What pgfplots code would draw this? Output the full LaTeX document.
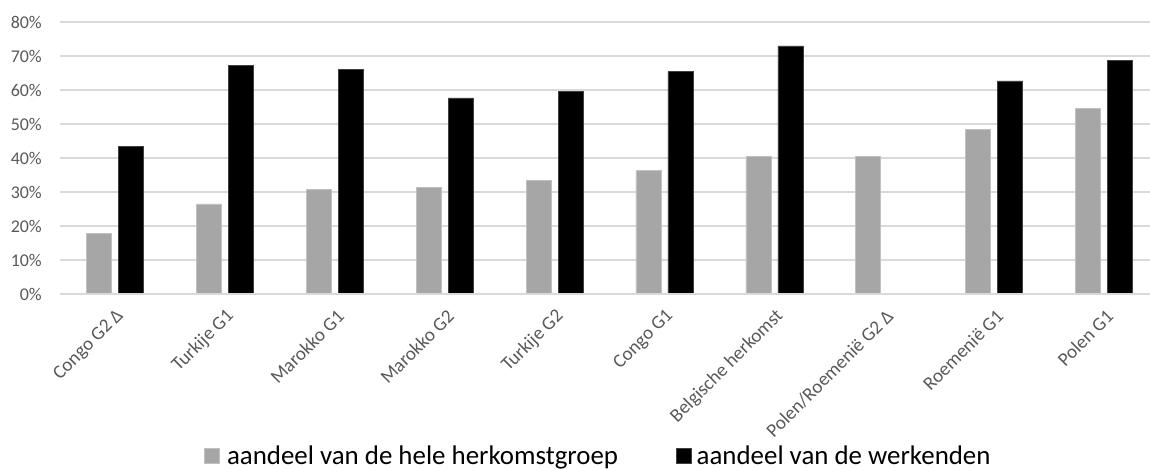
\documentclass[border=0pt]{standalone}
\usepackage{pgfplots}
\pgfplotsset{compat=1.18}
\usepackage{fontspec}
\setmainfont{Carlito}
\definecolor{gridc}{HTML}{D9D9D9}
\definecolor{barg}{HTML}{A6A6A6}
\definecolor{labc}{HTML}{595959}
\pgfplotsset{sqlegend/.style={legend image code/.code={\fill[##1] (0bp,-7.5bp) rectangle (15bp,7.5bp);}}}
\begin{document}
\begin{tikzpicture}
\useasboundingbox (0,0) rectangle (1150bp,-469bp);
\begin{axis}[
  at={(60bp,-294bp)}, anchor=south west,
  scale only axis, width=1090bp, height=272bp,
  xmin=-0.5, xmax=9.418, ymin=0, ymax=80,
  axis line style={draw=none},
  ymajorgrids, grid style={gridc, line width=1.2bp},
  ytick={0,10,...,80},
  yticklabels={0\%,10\%,20\%,30\%,40\%,50\%,60\%,70\%,80\%},
  yticklabel style={font=\fontsize{18}{20}\selectfont, text=labc, anchor=east, inner sep=0pt, xshift=-18bp},
  xtick={0,...,9},
  xticklabels={Congo G2 Δ, Turkije G1, Marokko G1, Marokko G2, Turkije G2, Congo G1, Belgische herkomst, Polen/Roemenië G2 Δ, Roemenië G1, Polen G1},
  xticklabel style={font=\fontsize{19.2}{22}\selectfont, text=labc, xshift=6bp, yshift=-19bp, rotate=45, anchor=east, inner sep=0pt},
  major tick length=0pt,
  ybar, bar width=25bp,
  legend columns=2,
  legend style={at={(0.4931,-0.594)}, anchor=center, draw=none, fill=none,
    font=\fontsize{27}{31}\selectfont, inner sep=0pt, nodes={inner sep=0pt},
    /tikz/every even column/.append style={column sep=58bp}},
  clip=false,
]
\addplot[bar shift=-16bp, fill=barg, draw=barg!70!white, line width=0.6bp, sqlegend] coordinates {
 (0,17.9) (1,26.5) (2,30.8) (3,31.3) (4,33.4) (5,36.3) (6,40.5) (7,40.5) (8,48.5) (9,54.6)};
\addlegendentry{\hspace{7bp}aandeel van de hele herkomstgroep}
\addplot[bar shift=16bp, fill=black, draw=black!75!white, line width=0.6bp, sqlegend] coordinates {
 (0,43.5) (1,67.3) (2,66.1) (3,57.7) (4,59.6) (5,65.4) (6,73.0) (8,62.7) (9,68.7)};
\addlegendentry{\hspace{5bp}aandeel van de werkenden}
\draw[gridc, line width=1.2bp] (axis cs:-0.5,0) -- (axis cs:9.418,0);
\end{axis}
\end{tikzpicture}
\end{document}
